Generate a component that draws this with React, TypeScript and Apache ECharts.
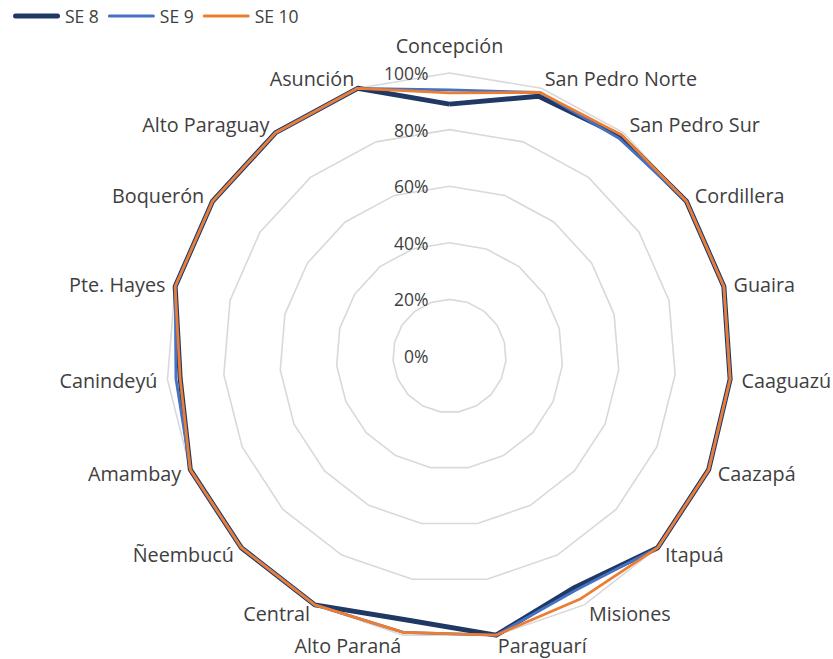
import React, { useEffect, useRef } from "react";
import * as echarts from "echarts";

// Categories in clockwise order starting at the top (as in the reference)
const categories: string[] = [
  "Concepción", "San Pedro Norte", "San Pedro Sur", "Cordillera", "Guaira",
  "Caaguazú", "Caazapá", "Itapuá", "Misiones", "Paraguarí", "Alto Paraná",
  "Central", "Ñeembucú", "Amambay", "Canindeyú", "Pte. Hayes", "Boquerón",
  "Alto Paraguay", "Asunción",
];

const se8: number[] = [89, 97, 98.5, 100, 100, 99.5, 100, 100, 93, 100, 94.5, 100, 100, 100, 95.5, 100, 100, 100, 100];
const se9: number[] = [94, 98.5, 97.5, 100, 100, 99.5, 100, 100, 94, 100, 99, 100, 100, 100, 97, 100, 100, 100, 100];
const se10: number[] = [93, 98.5, 99, 100, 100, 99.5, 100, 100, 97.5, 100, 99, 100, 100, 100, 95.5, 100, 100, 100, 100];

const seriesNames: string[] = ["SE 8", "SE 9", "SE 10"];
const ringTicks: number[] = [0, 20, 40, 60, 80, 100];

const COLORS = ["#203864", "#4472C4", "#ED7D31"];
const WIDTHS = [5, 2.75, 2.75];
const FONT = "'Open Sans', 'Noto Sans', sans-serif";
const TEXT = "#404040";

// ECharts radar lays indicators out counter-clockwise; reverse all but the first to go clockwise
const reorder = <T,>(arr: T[]): T[] => [arr[0], ...arr.slice(1).reverse()];

export default function App() {
  const ref = useRef<HTMLDivElement>(null);

  useEffect(() => {
    if (!ref.current) return;
    const chart = echarts.init(ref.current, undefined, { renderer: "svg" });
    const center = [449.5, 356];
    const radius = 283;
    const allData = [se8, se9, se10];

    chart.setOption({
      animation: false,
      backgroundColor: "#ffffff",
      textStyle: { fontFamily: FONT },
      legend: {
        left: 8,
        top: 2,
        itemWidth: 47,
        itemHeight: 5,
        itemGap: 9,
        textStyle: { fontSize: 17.5, color: TEXT, fontFamily: FONT },
        data: seriesNames.map((n, i) => ({
          name: n,
          icon: i === 0 ? "path://M2.5,0H44.5A2.5,2.5,0,0,1,44.5,5H2.5A2.5,2.5,0,0,1,2.5,0Z" : "path://M1.5,0H45.5A1.5,1.5,0,0,1,45.5,3H1.5A1.5,1.5,0,0,1,1.5,0Z",
          itemStyle: { color: COLORS[i] },
        })),
      },
      radar: {
        center,
        radius,
        startAngle: 90,
        shape: "polygon",
        splitNumber: 5,
        axisNameGap: 10,
        axisName: {
          color: TEXT,
          fontSize: 19.8,
          fontFamily: FONT,
          formatter: (v: string) => (v === categories[0] ? `{top|${v}}` : v),
          rich: {
            top: { fontSize: 19.8, fontFamily: FONT, color: TEXT, padding: [0, 0, 8, 0] },
          },
        },
        axisLine: { show: false },
        axisTick: { show: false },
        axisLabel: { show: false },
        splitArea: { show: false },
        splitLine: { lineStyle: { color: "#D9D9D9", width: 1.6 } },
        indicator: reorder(categories).map((c) => ({ name: c, min: 0, max: 100 })),
      },
      polar: { center, radius },
      angleAxis: { show: false, startAngle: 90, min: 0, max: 360 },
      radiusAxis: {
        type: "value",
        min: ringTicks[0],
        max: ringTicks[ringTicks.length - 1],
        interval: 20,
        axisLine: { show: false },
        axisTick: { show: false },
        splitLine: { show: false },
        axisLabel: {
          formatter: "{value}%",
          margin: 21,
          fontSize: 17.5,
          color: TEXT,
          fontFamily: FONT,
        },
      },
      series: seriesNames.map((n, i) => ({
        name: n,
        type: "radar",
        symbol: "none",
        z: 2 + i,
        itemStyle: { color: COLORS[i] },
        lineStyle: { color: COLORS[i], width: WIDTHS[i] },
        data: [{ name: n, value: reorder(allData[i]) }],
      })),
    });

    return () => chart.dispose();
  }, []);

  return (
    <div
      ref={ref}
      style={{ position: "fixed", left: 0, top: 0, width: 833, height: 659 }}
    />
  );
}
